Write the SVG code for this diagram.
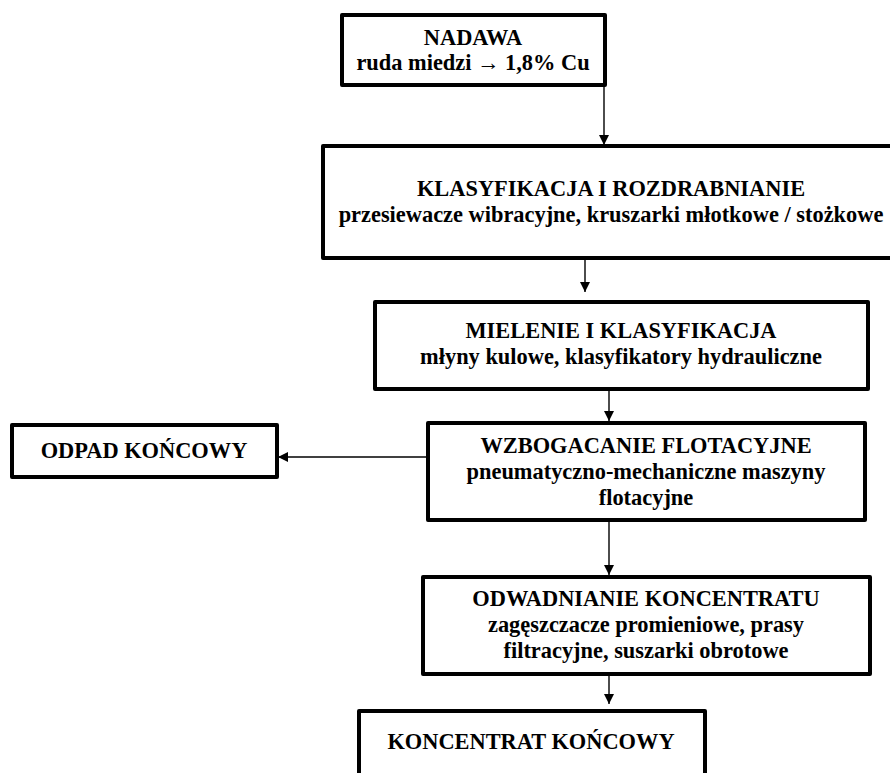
<svg xmlns="http://www.w3.org/2000/svg" width="890" height="773" viewBox="0 0 890 773">
<defs>
<style>
.box{fill:#fff;stroke:#000;stroke-width:4;stroke-linejoin:round}
.t{font-family:"Liberation Serif","Times New Roman",serif;font-weight:bold;font-size:22.4px;fill:#000;text-anchor:middle}
.c{stroke:#000;stroke-width:1.4;fill:none;marker-end:url(#ah)}
</style>
<marker id="ah" viewBox="0 0 10 10" refX="10" refY="5" markerWidth="10" markerHeight="11" markerUnits="userSpaceOnUse" orient="auto">
<path d="M0,0 L10,5 L0,10 Z" fill="#000"/>
</marker>
</defs>
<rect width="890" height="773" fill="#fff"/>
<g id="connectors">
<line class="c" x1="604" y1="85" x2="604" y2="145"/>
<line class="c" x1="585" y1="258" x2="585" y2="292"/>
<line class="c" x1="609" y1="382" x2="609" y2="421"/>
<line class="c" x1="428" y1="457" x2="278" y2="457"/>
<line class="c" x1="609" y1="520" x2="609" y2="575"/>
<line class="c" x1="609" y1="674" x2="609" y2="704"/>
</g>
<g id="nadawa">
<rect class="box" x="342" y="15" width="263" height="70"/>
<text class="t" x="473" y="45">NADAWA</text>
<text class="t" x="473" y="70">ruda miedzi → 1,8% Cu</text>
</g>
<g id="klasyfikacja">
<rect class="box" x="323" y="146" width="580" height="112"/>
<text class="t" x="611" y="196">KLASYFIKACJA I ROZDRABNIANIE</text>
<text class="t" x="611" y="222">przesiewacze wibracyjne, kruszarki młotkowe / stożkowe</text>
</g>
<g id="mielenie">
<rect class="box" x="375" y="302" width="493" height="87"/>
<text class="t" x="621" y="338">MIELENIE I KLASYFIKACJA</text>
<text class="t" x="621" y="364">młyny kulowe, klasyfikatory hydrauliczne</text>
</g>
<g id="odpad">
<rect class="box" x="12" y="425" width="265" height="52"/>
<text class="t" x="144" y="458">ODPAD KOŃCOWY</text>
</g>
<g id="flotacja">
<rect class="box" x="428" y="423" width="437" height="97"/>
<text class="t" x="646" y="453">WZBOGACANIE FLOTACYJNE</text>
<text class="t" x="646" y="479">pneumatyczno-mechaniczne maszyny</text>
<text class="t" x="646" y="505">flotacyjne</text>
</g>
<g id="odwadnianie">
<rect class="box" x="423" y="577" width="447" height="97"/>
<text class="t" x="646" y="606">ODWADNIANIE KONCENTRATU</text>
<text class="t" x="646" y="632">zagęszczacze promieniowe, prasy</text>
<text class="t" x="646" y="658">filtracyjne, suszarki obrotowe</text>
</g>
<g id="koncentrat">
<rect class="box" x="359" y="711" width="346" height="100"/>
<text class="t" x="531" y="749">KONCENTRAT KOŃCOWY</text>
</g>
</svg>
